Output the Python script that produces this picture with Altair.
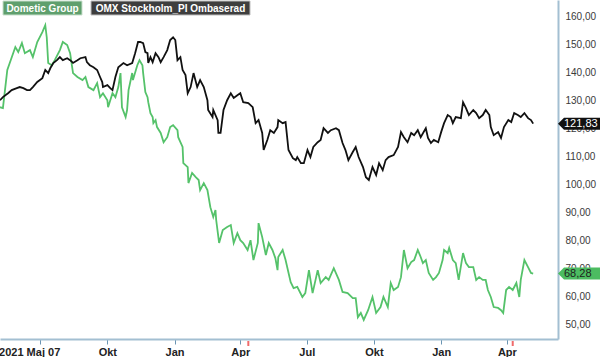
import altair as alt
import pandas as pd

# ---------------- data ----------------
series_names = ["Dometic Group", "OMX Stockholm_PI Ombaserad"]

g_2021 = ["05-07","05-11","05-17","05-28","06-01","06-06","06-10","06-17","06-21","06-27",
          "07-04","07-08","07-10","07-12","07-17","07-21","07-28","08-01","08-07","08-11",
          "08-15","08-21","08-28","09-01","09-05","09-12","09-17","09-21","09-25","10-01",
          "10-02","10-08","10-12","10-16","10-19","10-21","10-26","10-28","10-30","11-04",
          "11-05","11-11","11-14","11-18","11-19","11-22","11-25","11-26","11-29","12-02",
          "12-03","12-06","12-08","12-13","12-17","12-22","12-26","12-30"]
g_2022 = ["01-05","01-06","01-09","01-12","01-13","01-19","01-20","01-25","01-30","02-03",
          "02-05","02-10","02-15","02-19","02-23","02-26","02-27","03-02","03-03","03-08",
          "03-14","03-19","03-23","03-28","04-01","04-05","04-11","04-15","04-19","04-25",
          "04-26","05-01","05-06","05-10","05-15","05-19","05-22","05-23","05-29","06-02",
          "06-09","06-13","06-18","06-25","06-29","07-04","07-09","07-16","07-20","07-27",
          "07-31","08-07","08-14","08-19","08-26","09-02","09-06","09-09","09-13","09-17",
          "09-23","09-29","10-04","10-10","10-14","10-20","10-24","10-28","11-03","11-07",
          "11-11","11-16","11-21","11-25","11-30","12-04","12-07","12-11","12-15","12-21",
          "12-25","12-29"]
g_2023 = ["01-03","01-05","01-10","01-12","01-17","01-21","01-25","01-31","02-04","02-08",
          "02-14","02-18","02-22","02-27","03-03","03-06","03-10","03-14","03-20","03-24",
          "03-27","03-31","04-04","04-09","04-14","04-18","04-20","04-25","04-30","05-04",
          "05-07"]
dometic_dates = (["2021-" + d for d in g_2021] + ["2022-" + d for d in g_2022]
                 + ["2023-" + d for d in g_2023])
dometic_values = [
    127.7,127.4,141.0,149.2,147.4,150.6,147.0,148.1,145.6,151.0,
    154.5,157.0,152.7,143.5,142.7,144.5,148.1,151.0,149.9,147.0,
    139.9,138.5,137.4,138.5,134.9,133.8,136.3,131.3,132.7,130.2,
    127.7,132.7,131.3,134.9,139.9,127.7,124.2,126.7,133.8,139.9,
    137.4,142.7,144.5,142.7,139.9,133.1,131.3,129.5,125.6,124.2,
    122.0,123.1,120.6,118.5,115.2,117.0,120.6,121.3,119.5,117.0,
    115.2,113.5,107.7,106.3,100.6,104.2,102.7,101.7,98.1,100.6,
    98.1,92.0,88.5,91.0,87.4,81.3,79.2,83.8,84.9,85.6,
    79.2,82.7,80.2,79.2,76.7,80.2,73.1,79.2,86.3,81.3,
    74.9,79.2,76.7,73.8,69.5,74.2,76.7,73.1,65.2,63.1,
    63.5,59.9,61.3,69.5,61.3,69.5,64.9,67.0,66.0,70.2,
    66.0,61.7,61.3,59.5,59.5,52.7,54.2,51.7,55.2,59.9,
    54.2,56.3,59.9,56.3,64.9,62.4,63.5,67.0,76.7,70.2,
    72.4,73.1,76.7,74.2,72.0,73.1,68.5,66.0,67.0,68.5,
    73.1,76.7,75.6,77.4,73.1,72.0,66.0,75.6,72.0,70.6,
    70.6,66.0,67.0,66.0,66.0,62.4,59.9,56.3,56.0,55.2,
    54.2,62.4,63.5,62.4,64.9,59.9,66.0,73.1,70.6,68.5,
    68.28]

o_2021 = ["05-07","05-11","05-18","05-23","05-30","06-03","06-08","06-13","06-17","06-21",
          "06-27","07-04","07-08","07-12","07-15","07-19","07-24","07-28","08-01","08-07",
          "08-11","08-15","08-21","08-25","09-01","09-03","09-07","09-12","09-17","09-21",
          "09-24","09-25","10-01","10-05","10-08","10-12","10-16","10-23","10-28","11-04",
          "11-08","11-12","11-15","11-19","11-22","11-25","11-26","11-29","12-02","12-06",
          "12-10","12-13","12-17","12-22","12-26","12-30"]
o_2022 = ["01-02","01-05","01-09","01-12","01-16","01-19","01-23","01-27","02-01","02-05",
          "02-10","02-15","02-16","02-22","02-23","03-01","03-02","03-05","03-09","03-14",
          "03-19","03-23","03-28","04-01","04-05","04-12","04-18","04-22","04-26","05-01",
          "05-03","05-08","05-12","05-17","05-22","05-23","05-29","06-02","06-06","06-12",
          "06-16","06-18","06-23","06-27","07-02","07-06","07-10","07-16","07-20","07-24",
          "07-30","08-03","08-10","08-14","08-19","08-23","08-27","09-02","09-06","09-10",
          "09-16","09-20","09-24","09-29","10-04","10-08","10-13","10-17","10-21","10-28",
          "11-03","11-07","11-11","11-16","11-21","11-25","11-30","12-04","12-11","12-14",
          "12-18","12-22","12-28"]
o_2023 = ["01-01","01-05","01-10","01-14","01-17","01-21","01-28","01-31","02-04","02-08",
          "02-14","02-18","02-22","02-27","03-03","03-08","03-10","03-14","03-20","03-24",
          "03-28","04-03","04-07","04-11","04-16","04-20","04-25","04-30","05-04","05-07"]
omx_dates = (["2021-" + d for d in o_2021] + ["2022-" + d for d in o_2022]
             + ["2023-" + d for d in o_2023])
omx_values = [
    130.2,131.3,132.7,133.8,134.5,134.9,134.5,133.8,133.8,134.9,
    136.7,138.1,141.0,139.9,141.7,143.5,144.5,145.6,144.5,145.2,
    144.5,143.5,144.5,145.2,145.6,143.8,142.7,142.0,141.0,138.5,
    136.7,134.9,135.6,134.5,133.8,138.5,142.0,143.5,142.7,143.5,
    147.0,151.0,151.0,150.6,147.4,147.0,143.5,145.6,143.8,147.0,
    145.6,143.8,145.6,148.1,151.7,152.7,151.7,144.5,145.6,141.0,
    139.2,132.7,134.9,139.9,134.9,137.4,134.9,130.2,126.7,124.2,
    126.7,123.1,118.5,118.5,126.7,130.2,132.7,131.0,132.0,132.7,
    129.5,129.2,127.7,122.0,123.1,118.5,112.4,116.0,119.5,118.5,
    120.6,123.1,122.0,122.4,112.4,109.5,108.8,109.9,107.7,107.7,
    112.4,109.9,113.5,115.2,116.0,120.2,118.5,119.5,120.2,119.5,
    114.9,112.4,108.8,111.7,113.5,109.9,106.3,102.7,101.7,106.3,
    103.5,107.7,105.2,108.8,109.9,110.6,113.5,118.8,117.0,115.2,
    118.5,117.7,119.5,117.0,120.2,116.7,114.9,116.0,115.2,118.8,
    122.0,124.9,124.2,122.0,124.2,123.8,129.5,127.4,124.9,126.7,
    125.6,123.8,124.9,126.7,124.9,120.6,117.7,118.8,116.7,120.6,
    123.1,122.4,125.6,124.9,124.2,125.6,123.8,123.1,121.83]

event_dates = ["2022-04-12", "2023-04-09"]          # red markers under the time axis
last_values = [121.83, 68.28]
last_labels = ["121,83", "68,28"]
y_ticks = [50, 60, 70, 80, 90, 100, 110, 120, 130, 140, 150, 160]
x_tick_months = [(2021, 7), (2021, 10), (2022, 1), (2022, 4),
                 (2022, 7), (2022, 10), (2023, 1), (2023, 4)]

# ---------------- tables ----------------
g = list(zip(dometic_dates, dometic_values))
o = list(zip(omx_dates, omx_values))
df_g = pd.DataFrame({"date": [d for d, _ in g], "value": [v for _, v in g]})
df_o = pd.DataFrame({"date": [d for d, _ in o], "value": [v for _, v in o]})
df_ev = pd.DataFrame({"date": event_dates})
df_last_o = pd.DataFrame({"value": [last_values[0]], "label": [last_labels[0]]})
df_last_g = pd.DataFrame({"value": [last_values[1]], "label": [last_labels[1]]})

FONT = "Liberation Sans"
GREEN = "#55c26a"
AXIS_BLUE = "#a3bfd2"

first_test = "utcyear(datum.value) == 2021 && utcmonth(datum.value) == 6"
x_enc = alt.X(
    "date:T",
    scale=alt.Scale(type="utc",
                    domain=[alt.DateTime(year=2021, month=5, date=7, utc=True),
                            alt.DateTime(year=2023, month=6, date=10, utc=True)]),
    axis=alt.Axis(
        title=None, grid=False,
        values=[alt.DateTime(year=y, month=m, date=1, utc=True) for y, m in x_tick_months],
        labelExpr=(f"{first_test} ? '2021 Maj 07' : "
                   "['Jan','Feb','Mar','Apr','Maj','Jun','Jul','Aug','Sep','Okt','Nov','Dec']"
                   "[utcmonth(datum.value)]"),
        labelOffset={"condition": {"test": first_test, "value": -11}, "value": 0},
        labelFont=FONT, labelFontSize=11, labelFontWeight="bold", labelColor="#222222",
        labelPadding=2, labelFlush=False, labelOverlap=False,
        domainColor=AXIS_BLUE, domainWidth=2,
        tickColor="#6b95b3", tickSize=5, tickWidth=1,
    ),
)
y_enc = alt.Y(
    "value:Q",
    scale=alt.Scale(domain=[44.9, 166.0], nice=False, zero=False),
    axis=alt.Axis(
        title=None, grid=False, orient="right", values=y_ticks,
        labelExpr="replace(format(datum.value, '.2f'), '.', ',')",
        labelFont=FONT, labelFontSize=10, labelColor="#3a3a3a",
        labelPadding=7, ticks=False, labelAlign="left",
        domainColor=AXIS_BLUE, domainWidth=2,
    ),
)

line_g = alt.Chart(df_g).mark_line(color=GREEN, strokeWidth=1.8).encode(x=x_enc, y=y_enc)
line_o = alt.Chart(df_o).mark_line(color="#111111", strokeWidth=1.8).encode(x=x_enc, y=y_enc)

events = alt.Chart(df_ev).mark_rule(color="#f06a6a", strokeWidth=2).encode(
    x=x_enc, y=alt.value(341), y2=alt.value(346))

# series name boxes (legend)
leg1 = alt.Chart(pd.DataFrame({"t": [series_names[0]]}))
leg2 = alt.Chart(pd.DataFrame({"t": [series_names[1]]}))
leg_box1 = leg1.mark_rect(fill="#5f9f6d", stroke="#c9dfcd", strokeWidth=1).encode(
    x=alt.value(3), x2=alt.value(82), y=alt.value(1), y2=alt.value(15))
leg_txt1 = leg1.mark_text(font=FONT, fontSize=10, fontWeight="bold", color="white",
                          align="center", baseline="middle").encode(
    x=alt.value(42.5), y=alt.value(8.5), text="t:N")
leg_box2 = leg2.mark_rect(fill="#3e3e3e", stroke="#bdbdbd", strokeWidth=1).encode(
    x=alt.value(91), x2=alt.value(250), y=alt.value(1), y2=alt.value(15))
leg_txt2 = leg2.mark_text(font=FONT, fontSize=10, fontWeight="bold", color="white",
                          align="center", baseline="middle").encode(
    x=alt.value(170.5), y=alt.value(8.5), text="t:N")

# last value tags on the right axis
TAG = "M-21,0 L-15,-6 L21,-6 L21,6 L-15,6 Z"
tag_o = alt.Chart(df_last_o).mark_point(shape=TAG, size=4, filled=True, opacity=1,
                                        color="#111111").encode(x=alt.value(579), y=y_enc)
tag_o_txt = alt.Chart(df_last_o).mark_text(font=FONT, fontSize=11, color="white",
                                           align="left", baseline="middle").encode(
    x=alt.value(564), y=y_enc, text="label:N")
tag_g = alt.Chart(df_last_g).mark_point(shape=TAG, size=4, filled=True, opacity=1,
                                        color="#4cbc61").encode(x=alt.value(579), y=y_enc)
tag_g_txt = alt.Chart(df_last_g).mark_text(font=FONT, fontSize=11, color="#1e1e1e",
                                           align="left", baseline="middle").encode(
    x=alt.value(564), y=y_enc, text="label:N")

chart = alt.layer(
    line_g, line_o, events,
    leg_box1, leg_txt1, leg_box2, leg_txt2,
    tag_o, tag_o_txt, tag_g, tag_g_txt,
).properties(
    width=558, height=339,
    autosize="none",
    padding={"left": 0, "top": 0, "right": 42, "bottom": 18},
    background="white",
).configure_view(strokeWidth=0)

chart.save("out.html", embed_options={"renderer": "svg", "actions": False})
